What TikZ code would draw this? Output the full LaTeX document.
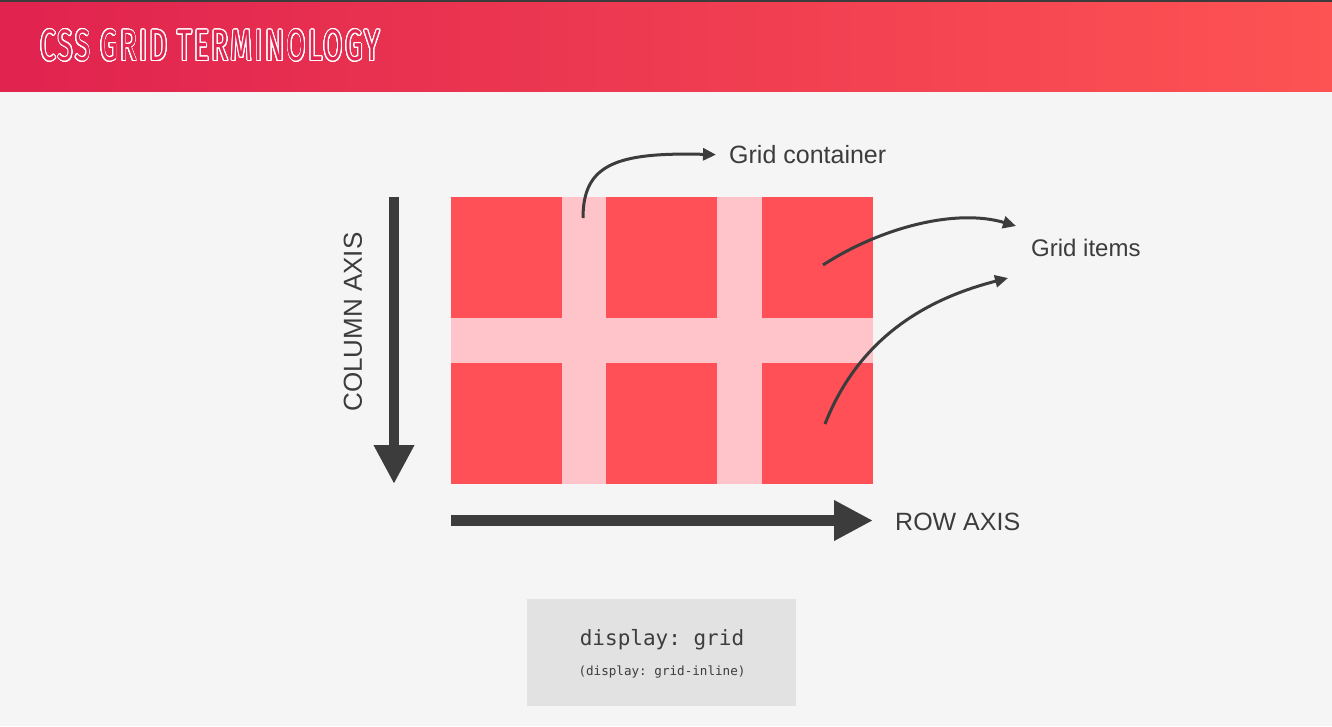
\documentclass[tikz,border=0pt]{standalone}
\usepackage{fontspec}
\setmainfont{Liberation Sans}
\setmonofont{DejaVu Sans Mono}
\newfontfamily\titlefont[FakeStretch=0.64, LetterSpace=5]{Fira Sans}
\usepackage{contour}
\contourlength{0.9pt}
\contournumber{32}
\usetikzlibrary{arrows.meta}
\definecolor{pagebg}{HTML}{F5F5F5}
\definecolor{headl}{HTML}{E0234F}
\definecolor{headr}{HTML}{FD5353}
\definecolor{cellred}{HTML}{FF5057}
\definecolor{gappink}{HTML}{FFC4CA}
\definecolor{ink}{HTML}{3C3C3C}
\definecolor{codebg}{HTML}{E2E2E2}

\begin{document}
\begin{tikzpicture}[x=1pt, y=-1pt,
    cell/.style={fill=cellred, minimum width=111pt, minimum height=121pt, inner sep=0pt, anchor=north west},
    axis/.style={ink, line width=11pt, -{Triangle[length=39pt,width=38pt]}},
    pointer/.style={ink, line width=3pt, -{Triangle[length=13pt,width=12pt]}},
    label/.style={ink, inner sep=0pt, font=\fontsize{25}{30}\selectfont}]
        \useasboundingbox (0,0) rectangle (1332,726);
        \fill[pagebg] (0,0) rectangle (1332,726);
        \shade[left color=headl, right color=headr] (0,2) rectangle (1332,91);
        \fill[ink] (0,0) rectangle (1332,2);
        \node[anchor=west, inner sep=0pt] (title) at (40,46) {\titlefont\fontsize{44}{50}\selectfont\contour{white}{\color{headl}CSS GRID TERMINOLOGY}};

        % the grid
        \fill[gappink] (451,197) rectangle (873,484);
        \foreach \cx/\col in {451/1,606/2,762/3}
            \foreach \cy/\row in {197/1,363/2}
                \node[cell] (c\row\col) at (\cx,\cy) {};

        % axes
        \coordinate (colstart) at (394,197);
        \coordinate (colend) at (394,484);
        \draw[axis, line width=10pt] (colstart) -- (colend);
        \node[label, rotate=90, font=\fontsize{26}{30}\selectfont] (colaxis) at (353,322) {COLUMN AXIS};
        \coordinate (rowstart) at (451,520.5);
        \coordinate (rowend) at (873,520.5);
        \draw[axis] (rowstart) -- (rowend);
        \node[label, anchor=west] (rowaxis) at (895,522) {ROW AXIS};

        % labels and pointers
        \node[label, anchor=west] (gc) at (729,155) {Grid container};
        \node[label, anchor=west, font=\fontsize{24}{28}\selectfont] (gi) at (1031,248) {Grid items};
        \coordinate (gapdot) at (583,218);
        \coordinate (item1) at (823,265);
        \coordinate (item2) at (825,424);
        \coordinate (gitop) at (1016,226);
        \coordinate (gibot) at (1008,278);
        \draw[pointer, shorten >=13pt] (gapdot) .. controls (583,165) and (615,152) .. (gc.west);
        \draw[pointer] (item1) .. controls (880,228) and (955,208) .. (gitop);
        \draw[pointer] (item2) .. controls (860,335) and (930,298) .. (gibot);

        % display box
        \node[fill=codebg, minimum width=269pt, minimum height=107pt] (code) at (661.5,652.5) {};
        \node[ink, font=\ttfamily\fontsize{21}{24}\selectfont] (codeline) at (662,640) {display: grid};
        \node[ink, font=\ttfamily\fontsize{12.6}{14}\selectfont] (codenote) at (662,672) {(display: grid-inline)};
    \end{tikzpicture}
\end{document}
